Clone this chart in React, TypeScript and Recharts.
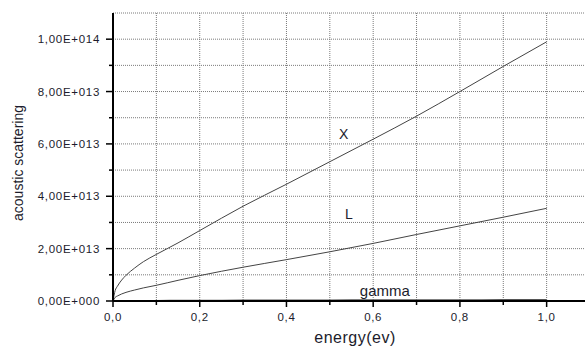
import React from 'react';
import { LineChart, Line, XAxis, YAxis, CartesianGrid, ReferenceDot } from 'recharts';

const energy = [0, 0.005, 0.01, 0.02, 0.03, 0.05, 0.07, 0.1, 0.15, 0.2, 0.3, 0.4, 0.5, 0.6, 0.7, 0.8, 0.9, 1.0];
// values in units of 1e13
const xValley = [0, 0.4, 0.56, 0.8, 0.98, 1.26, 1.5, 1.78, 2.22, 2.69, 3.62, 4.46, 5.32, 6.18, 7.06, 8.0, 8.96, 9.9];
const lValley = [0, 0.14, 0.19, 0.27, 0.33, 0.42, 0.5, 0.6, 0.79, 0.97, 1.29, 1.58, 1.88, 2.2, 2.54, 2.87, 3.2, 3.54];
const gammaValley = [0, 0.004, 0.006, 0.008, 0.01, 0.013, 0.015, 0.018, 0.022, 0.026, 0.03, 0.034, 0.038, 0.041, 0.044, 0.047, 0.05, 0.053];

const xTicks = [0, 0.1, 0.2, 0.3, 0.4, 0.5, 0.6, 0.7, 0.8, 0.9, 1.0];
const xTickLabels = ['0,0', '', '0,2', '', '0,4', '', '0,6', '', '0,8', '', '1,0'];
const yTicks = [0, 1e13, 2e13, 3e13, 4e13, 5e13, 6e13, 7e13, 8e13, 9e13, 1e14];
const yTickLabels = ['0,00E+000', '', '2,00E+013', '', '4,00E+013', '', '6,00E+013', '', '8,00E+013', '', '1,00E+014'];

const data = energy.map((e, i) => ({
  e,
  X: xValley[i] * 1e13,
  L: lValley[i] * 1e13,
  gamma: gammaValley[i] * 1e13,
}));

const FONT = 'Liberation Sans, Arial, sans-serif';
const TXT = '#1c1c2c';

const YTick = (props: any) => {
  const { x, y, index } = props;
  const major = index % 2 === 0;
  return (
    <g>
      <line x1={x - (major ? 7 : 4)} x2={x} y1={y} y2={y} stroke="#000" strokeWidth={1.5} />
      {major && (
        <text x={x - 13} y={y} textAnchor="end" dominantBaseline="central" fontFamily={FONT} fontSize={11.5} letterSpacing={0.7} fill={TXT}>
          {yTickLabels[index]}
        </text>
      )}
    </g>
  );
};

const XTick = (props: any) => {
  const { x, y, index } = props;
  const major = index % 2 === 0;
  return (
    <g>
      <line x1={x} x2={x} y1={y} y2={y + (major ? 6 : 4)} stroke="#000" strokeWidth={1.5} />
      {major && (
        <text x={x} y={y + 16} textAnchor="middle" dominantBaseline="central" fontFamily={FONT} fontSize={11.5} letterSpacing={0.7} fill={TXT}>
          {xTickLabels[index]}
        </text>
      )}
    </g>
  );
};

export default function App() {
  return (
    <div style={{ position: 'absolute', left: 0, top: 0, width: 585, height: 346, overflow: 'hidden', background: '#fff' }}>
      <LineChart width={600} height={346} data={data} margin={{ top: 13, right: 10, bottom: 0, left: 0 }}>
        <CartesianGrid stroke="#7a7a7a" strokeDasharray="1 1" />
        <XAxis
          dataKey="e"
          type="number"
          domain={[0, 1.1]}
          ticks={xTicks}
          interval={0}
          height={45}
          tickSize={0}
          tickMargin={0}
          tickLine={false}
          axisLine={{ stroke: '#000', strokeWidth: 2 }}
          tick={<XTick />}
          label={{
            content: () => (
              <text x={355} y={337} textAnchor="middle" dominantBaseline="central" fontFamily={FONT} fontSize={16} letterSpacing={0.5} fill={TXT}>
                energy(ev)
              </text>
            ),
          }}
        />
        <YAxis
          type="number"
          domain={[0, 1.1e14]}
          ticks={yTicks}
          interval={0}
          width={113}
          tickSize={0}
          tickMargin={0}
          tickLine={false}
          axisLine={{ stroke: '#000', strokeWidth: 2 }}
          tick={<YTick />}
          label={{
            content: () => (
              <text x={18} y={163} transform="rotate(-90 18 163)" textAnchor="middle" dominantBaseline="central" fontFamily={FONT} fontSize={14} fill={TXT}>
                acoustic scattering
              </text>
            ),
          }}
        />
        <Line type="monotone" dataKey="X" stroke="#444" strokeWidth={1} dot={false} isAnimationActive={false} />
        <Line type="monotone" dataKey="L" stroke="#444" strokeWidth={1} dot={false} isAnimationActive={false} />
        <Line type="monotone" dataKey="gamma" stroke="#555" strokeWidth={1.2} dot={false} isAnimationActive={false} />
        <ReferenceDot x={0.532} y={6.38e13} r={1} fill="none" stroke="none" label={{ value: 'X', position: 'center', fontSize: 14, fill: TXT, fontFamily: FONT }} />
        <ReferenceDot x={0.544} y={3.31e13} r={1} fill="none" stroke="none" label={{ value: 'L', position: 'center', fontSize: 14, fill: TXT, fontFamily: FONT }} />
        <ReferenceDot x={0.627} y={0.4e13} r={1} fill="none" stroke="none" label={{ value: 'gamma', position: 'center', fontSize: 15, fill: TXT, fontFamily: FONT }} />
      </LineChart>
    </div>
  );
}
